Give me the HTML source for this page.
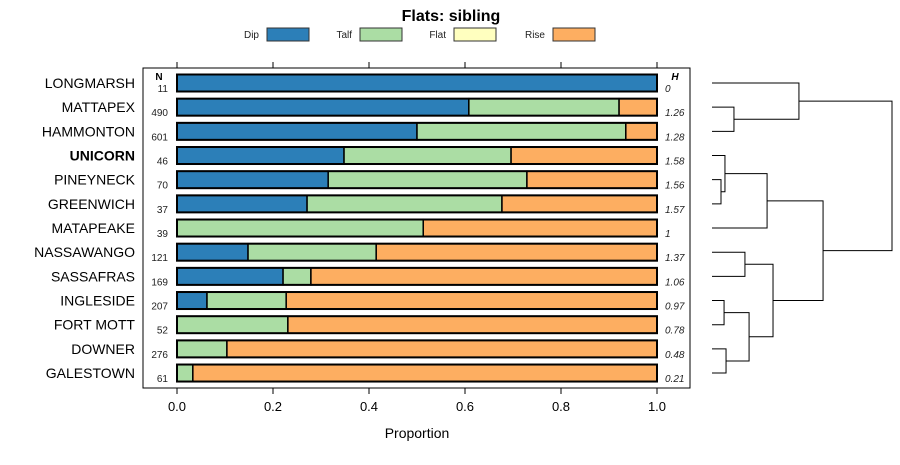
<!DOCTYPE html>
<html><head><meta charset="utf-8"><style>
body{margin:0;background:#fff}
svg{font-family:"Liberation Sans",sans-serif}
</style></head><body>
<svg id="c" width="900" height="460" viewBox="0 0 900 460">
<text x="451" y="21" text-anchor="middle" font-size="16" font-weight="bold">Flats: sibling</text>
<g id="legend"></g>
<rect x="143" y="68" width="547" height="320" fill="none" stroke="#000" stroke-width="1"/>
<g id="bars"></g>
<g id="axis"></g>
<g id="dend"></g>
<text x="417" y="438" text-anchor="middle" font-size="14">Proportion</text>
<text x="159" y="80" text-anchor="middle" font-size="10" font-weight="bold">N</text>
<text x="675" y="80" text-anchor="middle" font-size="10" font-weight="bold" font-style="italic">H</text>
</svg>
<script>
const categories=["LONGMARSH","MATTAPEX","HAMMONTON","UNICORN","PINEYNECK","GREENWICH","MATAPEAKE","NASSAWANGO","SASSAFRAS","INGLESIDE","FORT MOTT","DOWNER","GALESTOWN"];
const nValues=[11,490,601,46,70,37,39,121,169,207,52,276,61];
const hLabels=["0","1.26","1.28","1.58","1.56","1.57","1","1.37","1.06","0.97","0.78","0.48","0.21"];
const dip=[1,0.608,0.5,0.348,0.315,0.271,0,0.148,0.221,0.0625,0,0,0];
const talf=[0,0.313,0.435,0.348,0.414,0.406,0.513,0.267,0.058,0.165,0.231,0.104,0.033];
const flat=[0,0,0,0,0,0,0,0,0,0,0,0,0];
const seriesNames=["Dip","Talf","Flat","Rise"];
const colors=["#2c7fb8","#abdda4","#ffffbf","#fdae61"];
const xTicks=[0,0.2,0.4,0.6,0.8,1.0];
const xTickLabels=["0.0","0.2","0.4","0.6","0.8","1.0"];
// dendrogram merges: [left, right, height]; negative = leaf index (-(i+1)), positive = merge index
const merges=[[-2,-3,0.122],[-1,0,0.483],[-5,-6,0.05],[-4,2,0.072],[3,-7,0.306],[-8,-9,0.183],[-10,-11,0.067],[-12,-13,0.078],[6,7,0.206],[5,8,0.339],[4,9,0.617],[1,10,1.0]];
const NS="http://www.w3.org/2000/svg";
const X=v=>177+v*480, Y=i=>83+i*24.17;
function mk(tag,attrs,parent){const e=document.createElementNS(NS,tag);for(const k in attrs)e.setAttribute(k,attrs[k]);parent.appendChild(e);return e;}
const bars=document.getElementById('bars');
categories.forEach((c,i)=>{
  const rise=1-dip[i]-talf[i]-flat[i];
  const vals=[dip[i],talf[i],flat[i],rise];
  let acc=0;const y=Y(i);
  vals.forEach((v,s)=>{
    if(v>0){const r=mk('rect',{x:X(acc),y:y-8.5,width:X(acc+v)-X(acc),height:17,fill:colors[s],stroke:'#000','stroke-width':1.5},bars);
    
    }
    acc+=v;
  });
  const o=mk('rect',{x:X(0),y:y-8.5,width:480,height:17,fill:'none',stroke:'#000','stroke-width':2},bars);
  
  
  const t=mk('text',{x:135,y:y+5,'text-anchor':'end','font-size':14,'font-weight':c==="UNICORN"?'bold':'normal'},bars);
  t.textContent=c;
  
  
  const n=mk('text',{x:168,y:y+9,'text-anchor':'end','font-size':10,fill:'#222'},bars);
  n.textContent=nValues[i];
  
  
  const h=mk('text',{x:665,y:y+9,'font-size':10,'font-style':'italic',fill:'#222'},bars);
  h.textContent=hLabels[i];
  
  
});
const ax=document.getElementById('axis');
xTicks.forEach((v,k)=>{
  mk('line',{x1:X(v),x2:X(v),y1:388,y2:394,stroke:'#000'},ax);
  mk('line',{x1:X(v),x2:X(v),y1:62,y2:68,stroke:'#000'},ax);
  const t=mk('text',{x:X(v),y:411,'text-anchor':'middle','font-size':13},ax);
  t.textContent=xTickLabels[k];
  
  
});
const lg=document.getElementById('legend');
const lgX=[267,360,454,553];
seriesNames.forEach((s,k)=>{
  const t=mk('text',{x:lgX[k]-8,y:38,'text-anchor':'end','font-size':10,fill:'#222'},lg);
  t.textContent=s;
  
  
  const r=mk('rect',{x:lgX[k],y:28,width:42,height:13,fill:colors[k],stroke:'#333'},lg);
  
  
});
const dg=document.getElementById('dend');
const DX=h=>712+h*180;
const pos=[];
function node(id){ if(id<0){return {y:Y(-id-1),h:0};} return pos[id]; }
merges.forEach((m,k)=>{
  const a=node(m[0]),b=node(m[1]);const x=DX(m[2]);
  const p=mk('path',{d:`M${DX(a.h)},${a.y}H${x}V${b.y}H${DX(b.h)}`,fill:'none',stroke:'#000','stroke-width':1},dg);
  
  
  pos[k]={y:(a.y+b.y)/2,h:m[2]};
});
</script>
</body></html>
